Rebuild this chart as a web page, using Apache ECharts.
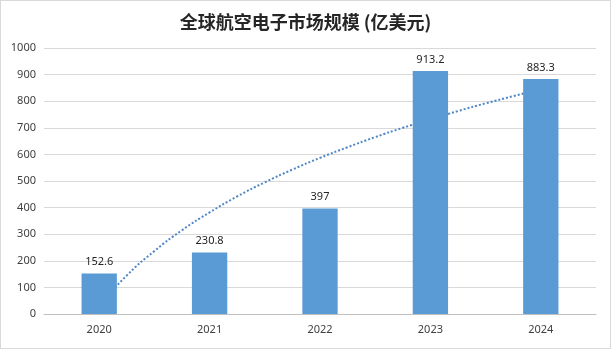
<!DOCTYPE html>
<html><head><meta charset="utf-8">
<script src="https://cdn.jsdelivr.net/npm/echarts@6/dist/echarts.min.js"></script>
<style>
html,body{margin:0;padding:0;background:#fff;}
#c{width:609px;height:347px;border:1px solid #d9d9d9;}
</style></head>
<body><div id="c"></div>
<script>
var title = '全球航空电子市场规模 (亿美元)';
var years = ['2020','2021','2022','2023','2024'];
var values = [152.6, 230.8, 397, 913.2, 883.3];
// dotted trendline (category position, value)
var trendX = [1,1.25,1.5,1.75,2,2.25,2.5,2.75,3,3.25,3.5,3.75,4,4.25,4.5,4.75,5];
var trendY = [32,145,237,315,382,442,495,543,587,627,665,700,732,763,792,819,845];

var chart = echarts.init(document.getElementById('c'));
var font = '"Noto Sans", "Noto Sans CJK SC", sans-serif';
chart.setOption({
  animation:false,
  title:{text:title,left:'center',top:7,textStyle:{fontSize:18,fontWeight:'bold',color:'#262626',fontFamily:'"Noto Sans CJK SC", sans-serif'}},
  grid:{left:43,right:14,top:47,bottom:34},
  xAxis:[{type:'category',data:years,axisTick:{show:false},
    axisLine:{lineStyle:{color:'#bfbfbf'}},
    axisLabel:{color:'#404040',fontSize:11,fontFamily:font,margin:10}},
   {type:'value',min:0.5,max:5.5,show:false}],
  yAxis:{type:'value',min:0,max:1000,interval:100,
    axisLine:{show:false},axisTick:{show:false},
    splitLine:{lineStyle:{color:'#d9d9d9'}},
    axisLabel:{color:'#404040',fontSize:11,fontFamily:font,margin:8,formatter:function(v){return String(v);}}},
  series:[
    {type:'line',xAxisIndex:1,z:1,smooth:true,symbol:'none',
     data:trendX.map(function(x,i){return [x,trendY[i]];}),
     lineStyle:{type:'dotted',width:2,color:'#4f86c6'}},
    {type:'bar',xAxisIndex:0,z:3,data:values,barWidth:'32%',
     itemStyle:{color:'#5b9bd5'},
     label:{show:true,position:'top',color:'#262626',fontSize:11,fontFamily:font,distance:6}}
  ]
});
</script></body></html>
